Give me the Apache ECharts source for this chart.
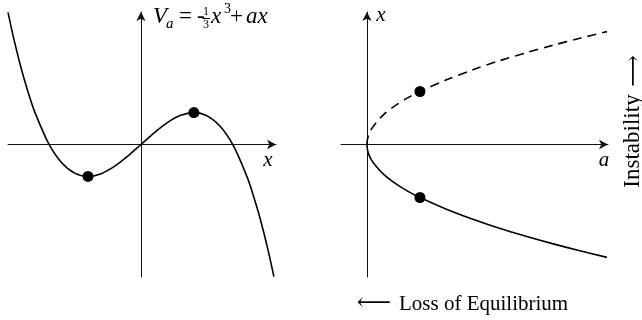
<!DOCTYPE html>
<html>
<head>
<meta charset="utf-8">
<script src="https://cdn.jsdelivr.net/npm/echarts@6/dist/echarts.min.js"></script>
<style>
  html, body { margin: 0; padding: 0; background: #fff; }
  #chart { width: 642px; height: 320px; }
</style>
</head>
<body>
<div id="chart"></div>
<script>
// left panel: potential V_a = -x^3/3 + a x  (a = 1)
var cubicX = [-2.51, -2.4, -2.25, -2.1, -2, -1.75, -1.5, -1.25, -1, -0.75, -0.5, -0.25, 0, 0.25, 0.5, 0.75, 1, 1.25, 1.5, 1.75, 2, 2.1, 2.25, 2.4, 2.51];
var cubicV = [2.761, 2.208, 1.547, 0.987, 0.667, 0.036, -0.375, -0.599, -0.667, -0.609, -0.458, -0.245, 0, 0.245, 0.458, 0.609, 0.667, 0.599, 0.375, -0.036, -0.667, -0.987, -1.547, -2.208, -2.761];
var extremaX = [-1, 1];
var extremaV = [-0.667, 0.667];

// right panel: equilibrium branches x = +/- sqrt(a)
var branchA = [0, 0.01, 0.04, 0.09, 0.18, 0.32, 0.5, 0.75, 1, 1.5, 2, 2.5, 3, 3.5, 4, 4.53];
var upperX  = [0, 0.1, 0.2, 0.3, 0.42, 0.57, 0.71, 0.87, 1, 1.22, 1.41, 1.58, 1.73, 1.87, 2, 2.13];
var lowerX  = [0, -0.1, -0.2, -0.3, -0.42, -0.57, -0.71, -0.87, -1, -1.22, -1.41, -1.58, -1.73, -1.87, -2, -2.13];
var dotA = [1, 1];
var dotX = [1, -1];

var serif = '"Liberation Serif", "DejaVu Serif", serif';

function pairs(xs, ys) {
  var out = [];
  for (var i = 0; i < xs.length; i++) out.push([xs[i], ys[i]]);
  return out;
}

var axisLine = {
  show: true,
  onZero: true,
  symbol: ['none', 'arrow'],
  symbolSize: [7, 9],
  lineStyle: { color: '#111', width: 1 }
};

function plainAxis(idx, min, max) {
  return {
    type: 'value', gridIndex: idx, min: min, max: max,
    axisLine: axisLine,
    axisTick: { show: false },
    axisLabel: { show: false },
    splitLine: { show: false }
  };
}

function txt(s, x, y, size, italic) {
  return {
    type: 'text', x: x, y: y,
    style: {
      text: s, font: (italic ? 'italic ' : '') + size + 'px ' + serif, fill: '#000',
      textAlign: 'left', textVerticalAlign: 'middle'
    }
  };
}

// formula V_a = -1/3 x^3 + ax, built piece by piece
var formula = {
  type: 'group',
  children: [
    txt('V', 153, 17, 23, true),
    txt('a', 166, 24, 15, true),
    txt('=', 179, 17, 23, false),
    txt('-', 197, 17, 23, false),
    txt('1', 203, 12, 12, false),
    { type: 'line', shape: { x1: 202.5, y1: 18.5, x2: 210, y2: 18.5 }, style: { stroke: '#000', lineWidth: 1 } },
    txt('3', 203, 25, 12, false),
    txt('x', 211, 17, 23, true),
    txt('3', 224, 9, 14, false),
    txt('+', 230, 17, 23, false),
    txt('ax', 246, 17, 23, true)
  ]
};

var chart = echarts.init(document.getElementById('chart'));
chart.setOption({
  backgroundColor: '#fff',
  animation: false,
  grid: [
    { left: 8, top: 12, width: 268, height: 265 },
    { left: 341, top: 12, width: 267, height: 265 }
  ],
  xAxis: [plainAxis(0, -2.51, 2.55), plainAxis(1, -0.49, 4.55)],
  yAxis: [plainAxis(0, -2.77, 2.77), plainAxis(1, -2.5, 2.5)],
  series: [
    {
      type: 'line', xAxisIndex: 0, yAxisIndex: 0,
      data: pairs(cubicX, cubicV), smooth: 0.3, showSymbol: false,
      lineStyle: { color: '#000', width: 1.6 }
    },
    {
      type: 'scatter', xAxisIndex: 0, yAxisIndex: 0,
      data: pairs(extremaX, extremaV), symbolSize: 11,
      itemStyle: { color: '#000', opacity: 1 }
    },
    {
      type: 'line', xAxisIndex: 1, yAxisIndex: 1,
      data: pairs(branchA, upperX), smooth: 0.3, showSymbol: false,
      lineStyle: { color: '#000', width: 1.6, type: [9, 6] }
    },
    {
      type: 'line', xAxisIndex: 1, yAxisIndex: 1,
      data: pairs(branchA, lowerX), smooth: 0.3, showSymbol: false,
      lineStyle: { color: '#000', width: 1.6 }
    },
    {
      type: 'scatter', xAxisIndex: 1, yAxisIndex: 1,
      data: pairs(dotA, dotX), symbolSize: 11,
      itemStyle: { color: '#000', opacity: 1 }
    }
  ],
  graphic: [
    formula,
    {
      type: 'text', x: 268, y: 160,
      style: { text: 'x', font: 'italic 21px ' + serif, fill: '#000', textAlign: 'center', textVerticalAlign: 'middle' }
    },
    {
      type: 'text', x: 381, y: 15,
      style: { text: 'x', font: 'italic 21px ' + serif, fill: '#000', textAlign: 'center', textVerticalAlign: 'middle' }
    },
    {
      type: 'text', x: 604, y: 160,
      style: { text: 'a', font: 'italic 21px ' + serif, fill: '#000', textAlign: 'center', textVerticalAlign: 'middle' }
    },
    {
      type: 'text', x: 633, y: 141, rotation: Math.PI / 2,
      style: { text: 'Instability', font: '23px ' + serif, fill: '#000', textAlign: 'center', textVerticalAlign: 'middle' }
    },
    {
      type: 'text', x: 634, y: 71, rotation: Math.PI / 2,
      style: { text: '⟶', font: '22px ' + serif, fill: '#000', textAlign: 'center', textVerticalAlign: 'middle' }
    },
    {
      type: 'text', x: 374, y: 304,
      style: { text: '⟵', font: '24px ' + serif, fill: '#000', textAlign: 'center', textVerticalAlign: 'middle' }
    },
    {
      type: 'text', x: 399, y: 304,
      style: { text: 'Loss of Equilibrium', font: '21px ' + serif, fill: '#000', textAlign: 'left', textVerticalAlign: 'middle' }
    }
  ]
});
</script>
</body>
</html>
